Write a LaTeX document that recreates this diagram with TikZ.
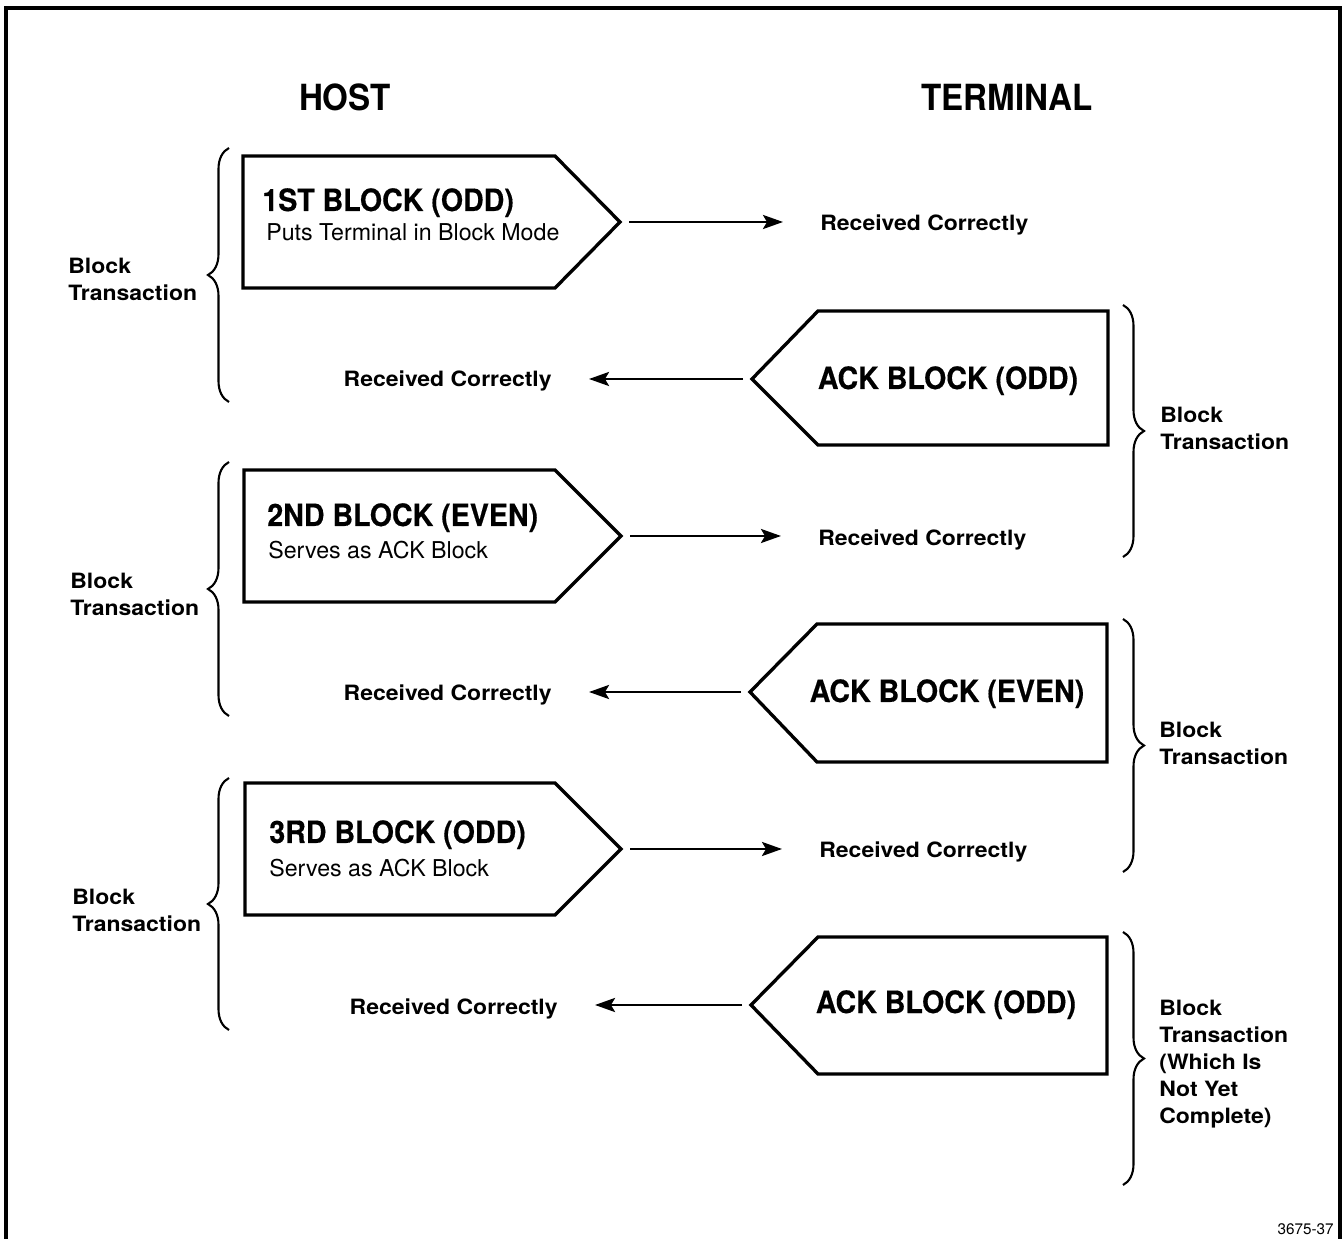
\documentclass[tikz,border=0pt]{standalone}
\usepackage{fontspec}
\setmainfont{TeX Gyre Heros}
\newfontfamily\headfont{TeX Gyre Heros}[FakeStretch=0.92]
\newfontfamily\blockfont{TeX Gyre Heros}[FakeStretch=0.93, BoldFeatures={FakeBold=0.4}]
\newfontfamily\sidefont{TeX Gyre Heros}[FakeStretch=1.09]
\usetikzlibrary{arrows.meta, decorations.pathreplacing}

\begin{document}
\begin{tikzpicture}[x=0.02cm, y=-0.02cm,
  box/.style={line width=1.9pt, line join=miter},
  flow/.style={line width=1.5pt, -{Stealth[length=4mm, width=2.8mm, inset=0.8mm]},
    shorten <=0.18cm, shorten >=0.74cm},
  curly/.style={line width=1.2pt, decorate, decoration={brace, amplitude=0.42cm}},
  side/.style={font=\headfont\fontsize{20.5}{24}\selectfont\bfseries, inner sep=0pt, anchor=base},
  blocktitle/.style={font=\blockfont\fontsize{17.5}{21}\selectfont\bfseries, inner sep=0pt},
  blocknote/.style={font=\fontsize{13.2}{16}\selectfont, inner sep=0pt, anchor=base west},
  lbl/.style={font=\sidefont\fontsize{12}{15.3}\selectfont\bfseries, inner sep=0pt}]
\useasboundingbox (0,0) rectangle (1343,1239);
% frame, open at the bottom
\draw[line width=1.9pt] (6,1245) -- (6,8) -- (1340,8) -- (1340,1245);

\node[side] (host) at (345,111) {HOST};
\node[side] (term) at (1007,111) {TERMINAL};

% 1ST BLOCK
\begin{scope}[shift={(243,156)}]
\draw[box] (0,0) -- (312,0) -- (377,66) -- (312,132) -- (0,132) -- cycle;
\coordinate (h1) at (377,66);
\node[blocktitle, anchor=base west] (h1title) at (19,55) {1ST BLOCK (ODD)};
\node[blocknote] (h1note) at (23,85) {Puts Terminal in Block Mode};
\node[lbl, anchor=base west] (r1) at (577,75) {Received Correctly};
\draw[flow] (h1) -- (h1 -| r1.west);
\end{scope}
% ACK (ODD)
\begin{scope}[shift={(752,311)}]
\draw[box] (0,68) -- (66,0) -- (356,0) -- (356,134) -- (66,134) -- cycle;
\coordinate (a1) at (0,68);
\node[blocktitle, anchor=base] (a1title) at (196,78) {ACK BLOCK (ODD)};
\node[lbl, anchor=base east] (l1) at (-200,76) {Received Correctly};
\draw[flow] (a1) -- (a1 -| l1.east);
\end{scope}

% 2ND BLOCK
\begin{scope}[shift={(244,470)}]
\draw[box] (0,0) -- (311,0) -- (377,66) -- (311,132) -- (0,132) -- cycle;
\coordinate (h2) at (377,66);
\node[blocktitle, anchor=base west] (h2title) at (23,56) {2ND BLOCK (EVEN)};
\node[blocknote] (h2note) at (24,89) {Serves as ACK Block};
\node[lbl, anchor=base west] (r2) at (574,76) {Received Correctly};
\draw[flow] (h2) -- (h2 -| r2.west);
\end{scope}
% ACK (EVEN)
\begin{scope}[shift={(750,624)}]
\draw[box] (0,68) -- (67,0) -- (357,0) -- (357,138) -- (67,138) -- cycle;
\coordinate (a2) at (0,68);
\node[blocktitle, anchor=base] (a2title) at (197,78) {ACK BLOCK (EVEN)};
\node[lbl, anchor=base east] (l2) at (-198,77) {Received Correctly};
\draw[flow] (a2) -- (a2 -| l2.east);
\end{scope}

% 3RD BLOCK
\begin{scope}[shift={(245,783)}]
\draw[box] (0,0) -- (310,0) -- (376,66) -- (310,132) -- (0,132) -- cycle;
\coordinate (h3) at (376,66);
\node[blocktitle, anchor=base west] (h3title) at (24,60) {3RD BLOCK (ODD)};
\node[blocknote] (h3note) at (24,94) {Serves as ACK Block};
\node[lbl, anchor=base west] (r3) at (574,75) {Received Correctly};
\draw[flow] (h3) -- (h3 -| r3.west);
\end{scope}
% ACK (ODD), still open
\begin{scope}[shift={(751,937)}]
\draw[box] (0,68) -- (67,0) -- (356,0) -- (356,137) -- (67,137) -- cycle;
\coordinate (a3) at (0,68);
\node[blocktitle, anchor=base] (a3title) at (195,76) {ACK BLOCK (ODD)};
\node[lbl, anchor=base east] (l3) at (-193,77) {Received Correctly};
\draw[flow] (a3) -- (a3 -| l3.east);
\end{scope}

% host side braces
\draw[curly] (229,402) -- (229,148);
\draw[curly] (229,716) -- (229,462);
\draw[curly] (229,1030) -- (229,778);
\node[lbl, align=left, anchor=north west] (t1) at (68,258) {Block\\Transaction};
\node[lbl, align=left, anchor=north west] (t2) at (70,573) {Block\\Transaction};
\node[lbl, align=left, anchor=north west] (t3) at (72,889) {Block\\Transaction};

% terminal side braces
\draw[curly] (1123,305) -- (1123,557);
\draw[curly] (1123,619) -- (1123,872);
\draw[curly] (1123,932) -- (1123,1185);
\node[lbl, align=left, anchor=north west] (t4) at (1160,407) {Block\\Transaction};
\node[lbl, align=left, anchor=north west] (t5) at (1159,722) {Block\\Transaction};
\node[lbl, align=left, anchor=north west] (t6) at (1159,1000) {Block\\Transaction\\(Which Is\\Not Yet\\Complete)};

\node[font=\fontsize{8.7}{10}\selectfont, inner sep=0pt, anchor=base east] (fig) at (1334,1234) {3675-37};
\end{tikzpicture}
\end{document}
